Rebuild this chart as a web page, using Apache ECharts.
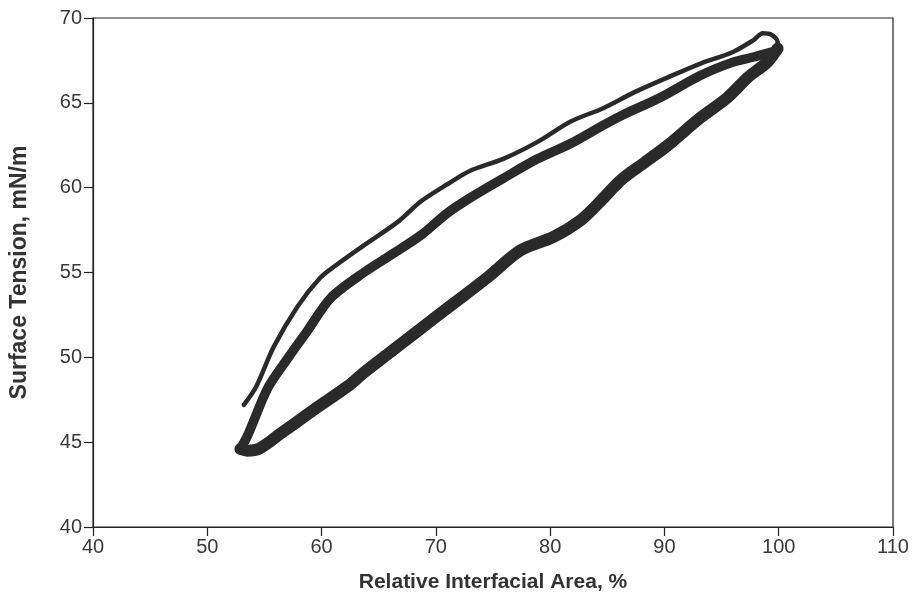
<!DOCTYPE html>
<html>
<head>
<meta charset="utf-8">
<script src="https://cdn.jsdelivr.net/npm/echarts@6/dist/echarts.min.js"></script>
<style>
html, body { margin: 0; padding: 0; background: #fff; }
#chart { width: 919px; height: 598px; }
</style>
</head>
<body>
<div id="chart"></div>
<script>
// axis ticks
const xTicks = [40, 50, 60, 70, 80, 90, 100, 110]
const yTicks = [40, 45, 50, 55, 60, 65, 70]

// first compression (thin trace, starts mid-left)
const upperX = [53.2, 54.3, 55.8, 57.9, 59.9, 61.2, 63.7, 66.7, 68.7, 71.0, 73.0, 75.9, 78.9, 81.8, 84.7, 87.3, 90.3, 93.1, 96.0, 97.8, 98.6, 99.4, 99.9, 99.9]
const upperY = [47.2, 48.3, 50.6, 53.0, 54.7, 55.4, 56.6, 58.0, 59.2, 60.2, 61.0, 61.7, 62.7, 63.9, 64.7, 65.6, 66.5, 67.3, 68.0, 68.7, 69.1, 69.0, 68.6, 68.1]

// later compressions (thick band)
const middleX = [52.9, 53.6, 55.3, 57.0, 58.8, 60.8, 63.7, 66.0, 68.7, 71.0, 73.0, 75.9, 78.9, 81.8, 84.7, 86.4, 89.6, 93.1, 96.0, 97.8, 99.9]
const middleY = [44.6, 45.5, 48.2, 49.9, 51.6, 53.5, 55.0, 56.0, 57.2, 58.5, 59.4, 60.55, 61.7, 62.6, 63.7, 64.3, 65.3, 66.6, 67.4, 67.7, 68.1]

// expansions (lower thick band)
const lowerX = [52.9, 53.5, 54.5, 56.4, 59.3, 62.3, 63.7, 66.0, 68.5, 71.6, 74.5, 77.4, 80.3, 82.7, 84.4, 86.2, 88.3, 90.3, 93.1, 95.5, 97.3, 99.0, 99.9]
const lowerY = [44.6, 44.5, 44.6, 45.5, 46.9, 48.3, 49.1, 50.3, 51.6, 53.2, 54.7, 56.3, 57.1, 58.1, 59.2, 60.45, 61.5, 62.5, 64.1, 65.3, 66.5, 67.4, 68.2]

const pairs = (xs, ys) => xs.map((x, i) => [x, ys[i]])

const chart = echarts.init(document.getElementById('chart'))
const font = '"Liberation Sans", Arial, sans-serif'
const ink = '#2a2a2a'

const axisCommon = {
	axisLine: { show: true, onZero: false, lineStyle: { color: '#222', width: 1.2 } },
	axisTick: { show: true, length: 9, lineStyle: { color: '#222', width: 1.2 } },
	splitLine: { show: false },
	axisLabel: { color: '#3a3a3a', fontSize: 20, fontFamily: font },
	nameLocation: 'middle'
}

const lineSeries = (name, data, width) => ({
	name: name,
	type: 'line',
	data: data,
	smooth: 0.3,
	symbol: 'none',
	lineStyle: { color: ink, width: width, cap: 'round', join: 'round' },
	animation: false
})

const option = {
	backgroundColor: '#fff',
	grid: {
		left: 92,
		right: 26,
		top: 18,
		bottom: 71,
		show: true,
		borderColor: '#222',
		borderWidth: 1.2
	},
	xAxis: Object.assign({}, axisCommon, {
		type: 'value',
		min: xTicks[0],
		max: xTicks[xTicks.length - 1],
		interval: 10,
		name: 'Relative Interfacial Area, %',
		nameGap: 45,
		nameTextStyle: { color: '#333', fontSize: 21, fontWeight: 'bold', fontFamily: font },
		axisLabel: Object.assign({}, axisCommon.axisLabel, { margin: 10 })
	}),
	yAxis: Object.assign({}, axisCommon, {
		type: 'value',
		min: yTicks[0],
		max: yTicks[yTicks.length - 1],
		interval: 5,
		name: 'Surface Tension, mN/m',
		nameGap: 62,
		nameTextStyle: { color: '#333', fontSize: 23, fontWeight: 'bold', fontFamily: font },
		axisLabel: Object.assign({}, axisCommon.axisLabel, { margin: 11 })
	}),
	series: [
		lineSeries('lower', pairs(lowerX, lowerY), 12),
		lineSeries('middle', pairs(middleX, middleY), 9.5),
		lineSeries('upper', pairs(upperX, upperY), 4.5)
	]
}

chart.setOption(option)
</script>
</body>
</html>
